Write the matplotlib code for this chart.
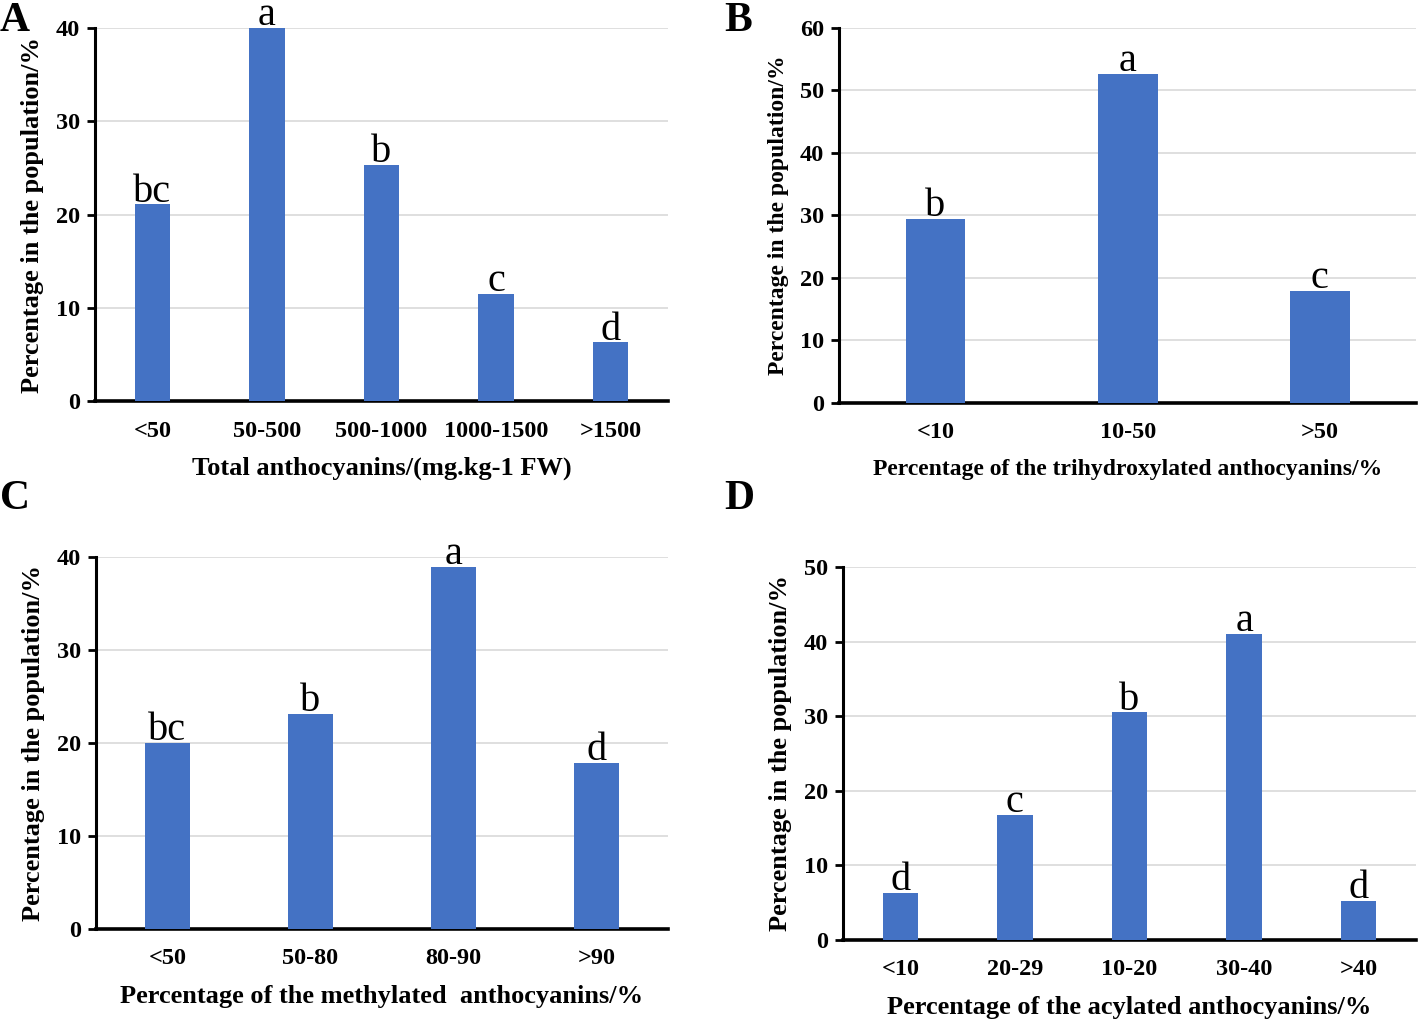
import matplotlib
matplotlib.use("Agg")
import matplotlib.pyplot as plt

plt.rcParams['font.family'] = ['Liberation Serif', 'DejaVu Serif']

# panel A
cats_a = ['<50', '50-500', '500-1000', '1000-1500', '>1500']
vals_a = [21.1, 40.0, 25.3, 11.5, 6.3]
lets_a = ['bc', 'a', 'b', 'c', 'd']

# panel B
cats_b = ['<10', '10-50', '>50']
vals_b = [29.5, 52.7, 17.9]
lets_b = ['b', 'a', 'c']

# panel C
cats_c = ['<50', '50-80', '80-90', '>90']
vals_c = [20.0, 23.1, 38.9, 17.85]
lets_c = ['bc', 'b', 'a', 'd']

# panel D
cats_d = ['<10', '20-29', '10-20', '30-40', '>40']
vals_d = [6.3, 16.8, 30.5, 41.0, 5.2]
lets_d = ['d', 'c', 'b', 'a', 'd']

BLUE = '#4472C4'

fig = plt.figure(figsize=(14.18, 10.21), dpi=100)


def panel(rect, cats, vals, lets, ymax, xlabel, tag, tagpos, labsize=19):
    ax = fig.add_axes(rect)
    x = list(range(len(cats)))
    ax.bar(x, vals, width=0.31, color=BLUE, zorder=3)
    # significance letters sit just above each bar
    for xi, v, l in zip(x, vals, lets):
        ax.annotate(l, (xi, v), xytext=(0, 2), textcoords='offset points',
                    ha='center', va='baseline', fontsize=29,
                    annotation_clip=False, zorder=4)
    ax.set_xlim(-0.5, len(cats) - 0.5)
    ax.set_ylim(0, ymax)
    ax.set_yticks(range(0, ymax + 1, 10))
    ax.set_xticks(x)
    ax.set_xticklabels(cats)
    ax.grid(axis='y', color='#d9d9d9', linewidth=1.2, zorder=0)
    for s in ['top', 'right']:
        ax.spines[s].set_visible(False)
    ax.spines['left'].set_linewidth(2.2)
    ax.spines['bottom'].set_linewidth(2.6)
    ax.tick_params(axis='y', length=6, width=2, labelsize=17.5, pad=5)
    ax.tick_params(axis='x', length=0, labelsize=17.5, pad=14)
    for t in ax.get_xticklabels() + ax.get_yticklabels():
        t.set_fontweight('bold')
    ax.set_xlabel(xlabel, fontsize=labsize, fontweight='bold', labelpad=11)
    ax.set_ylabel('Percentage in the population/%', fontsize=labsize,
                  fontweight='bold', labelpad=8)
    fig.text(tagpos[0], tagpos[1], tag, fontsize=30, fontweight='bold',
             ha='left', va='top')
    return ax


panel([0.067, 0.607, 0.404, 0.3656], cats_a, vals_a, lets_a, 40,
      'Total anthocyanins/(mg.kg-1 FW)', 'A', (0.0, 0.998))
panel([0.592, 0.6053, 0.4066, 0.3673], cats_b, vals_b, lets_b, 60,
      'Percentage of the trihydroxylated anthocyanins/%', 'B', (0.511, 0.998),
      labsize=17)
panel([0.0677, 0.0901, 0.4033, 0.3644], cats_c, vals_c, lets_c, 40,
      'Percentage of the methylated  anthocyanins/%', 'C', (0.0, 0.53))
panel([0.5945, 0.0793, 0.4041, 0.3654], cats_d, vals_d, lets_d, 50,
      'Percentage of the acylated anthocyanins/%', 'D', (0.511, 0.53))

fig.savefig('out.png', dpi=100)
